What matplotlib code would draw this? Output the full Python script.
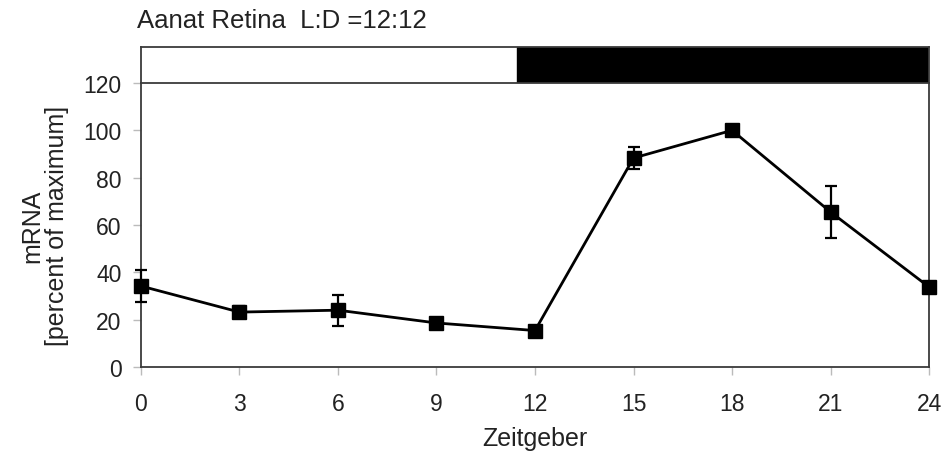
import numpy as np
import matplotlib.pyplot as plt

plt.rcParams['font.family'] = ['Liberation Sans', 'DejaVu Sans']

# data
zeitgeber = [0, 3, 6, 9, 12, 15, 18, 21, 24]
mrna = [34.2, 23.2, 24.0, 18.6, 15.4, 88.3, 100.0, 65.5, 33.8]
err = [6.7, 2.5, 6.5, 2.2, 1.0, 4.5, 0.0, 11.0, 0.0]
xticks = [0, 3, 6, 9, 12, 15, 18, 21, 24]
yticks = [0, 20, 40, 60, 80, 100, 120]
light_end = 11.45  # light/dark boundary in the bar

fig = plt.figure(figsize=(9.41, 4.56), dpi=100)
ax = fig.add_axes([0.1498, 0.193, 0.8375, 0.6228])
bar = fig.add_axes([0.1498, 0.8158, 0.8375, 0.0789])

spine_col = '#3a3a3a'
txt_col = '#222222'
ax.errorbar(zeitgeber, mrna, yerr=err, color='black', lw=2.0, marker='s', ms=9.5,
            ecolor='black', elinewidth=1.6, capsize=4, capthick=1.6, zorder=3, clip_on=False)

ax.set_xlim(0, 24)
ax.set_ylim(0, 120)
ax.set_xticks(xticks)
ax.set_yticks(yticks)
ax.tick_params(axis='both', direction='out', length=6, width=1, color='#bbbbbb',
               labelsize=16.5, labelcolor=txt_col)
ax.tick_params(axis='x', pad=12)
ax.tick_params(axis='y', pad=8)
for s in ['left', 'right', 'bottom']:
    ax.spines[s].set_color(spine_col)
    ax.spines[s].set_linewidth(1.3)
ax.spines['top'].set_visible(False)
ax.set_xlabel('Zeitgeber', fontsize=18, color=txt_col, labelpad=8)
ax.set_ylabel('mRNA\n[percent of maximum]', fontsize=18, color=txt_col, labelpad=10,
              linespacing=1.05)

# light/dark bar
bar.axvspan(0, light_end, color='white')
bar.axvspan(light_end, 24, color='black')
bar.set_ylim(0, 1)
bar.set_xlim(0, 24)
bar.set_xticks([])
bar.set_yticks([])
for s in bar.spines.values():
    s.set_color(spine_col)
    s.set_linewidth(1.3)

fig.text(0.146, 0.955, 'Aanat Retina  L:D =12:12', fontsize=18.5, color=txt_col,
         ha='left', va='center')

fig.savefig('out.png', dpi=100)
